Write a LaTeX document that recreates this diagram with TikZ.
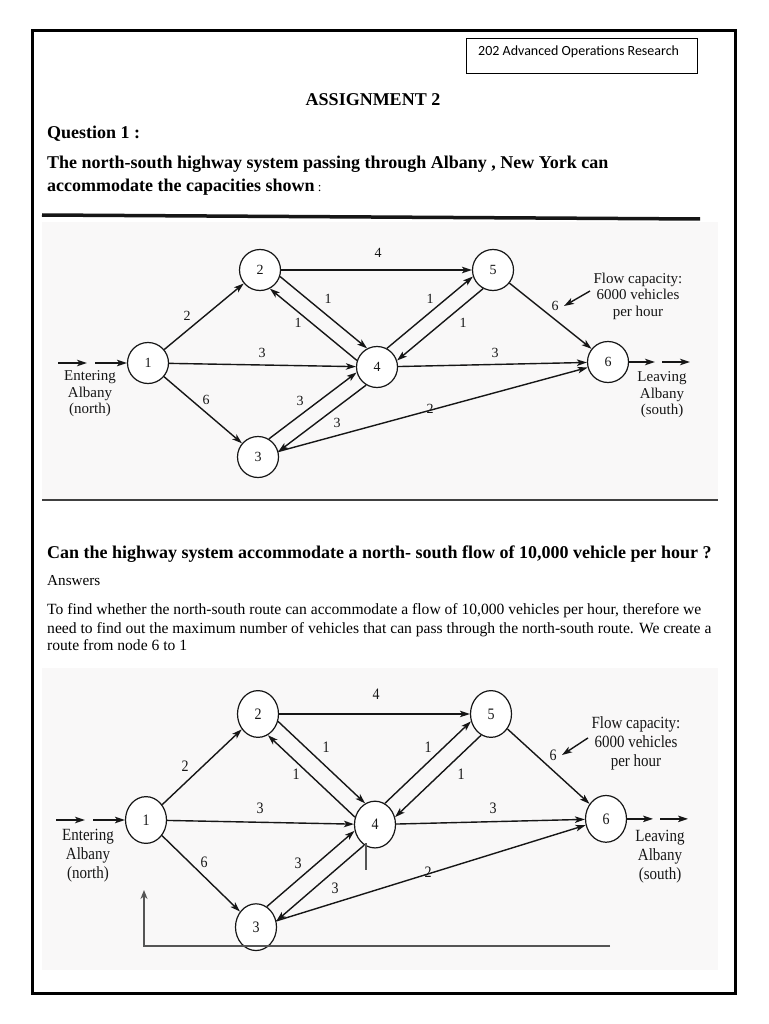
\documentclass[tikz,border=0pt]{standalone}
\usepackage{fontspec}
\setmainfont{Liberation Serif}
\newfontfamily\calfont{Carlito}
\usetikzlibrary{arrows.meta,calc}
\definecolor{ink}{HTML}{161616}
\definecolor{marker}{HTML}{555555}
\definecolor{photo}{HTML}{F9F8F8}
\tikzset{
  vx/.style={circle, draw=ink, line width=1.2pt, minimum size=41pt, inner sep=0pt, fill=white, font=\fontsize{14}{14}\selectfont, text=ink},
  edgeln/.style={draw=ink, line width=1.4pt, -{Stealth[length=10pt,width=6.5pt,inset=2.5pt]}},
  lbl/.style={font=\fontsize{14}{14}\selectfont, inner sep=0pt, text=ink},
  side/.style={font=\fontsize{15}{16.5}\selectfont, align=center, inner sep=0pt, text=ink},
  boldline/.style={anchor=base west, inner sep=0pt, font=\fontsize{18}{18}\selectfont\bfseries},
  plainline/.style={anchor=base west, inner sep=0pt, font=\fontsize{15.6}{15.6}\selectfont},
  markline/.style={draw=marker, line width=2.5pt},
}
\newcommand\netbody{%
  \node[vx] (n1) at (0,0) {1};
  \node[vx] (n2) at (112,-93) {2};
  \node[vx] (n3) at (110,94) {3};
  \node[vx] (n4) at (229,4) {4};
  \node[vx] (n5) at (345,-93) {5};
  \node[vx] (n6) at (460,-1) {6};
  \draw[edgeln] (n1) -- (n2);
  \draw[edgeln] (n1) -- (n4);
  \draw[edgeln] (n1) -- (n3);
  \draw[edgeln] (n2) -- (n5);
  \draw[edgeln] (n2.-18) -- (n4.118);
  \draw[edgeln] (n4.162) -- (n2.-62);
  \draw[edgeln] (n4.62) -- (n5.198);
  \draw[edgeln] (n5.242) -- (n4.18);
  \draw[edgeln] (n3.59) -- (n4.195);
  \draw[edgeln] (n4.239) -- (n3.15);
  \draw[edgeln] (n4) -- (n6);
  \draw[edgeln] (n3) -- (n6);
  \draw[edgeln] (n5) -- (n6);
  \coordinate (ea) at (-90,0); \coordinate (eb) at (-61,0); \coordinate (ec) at (-53,0);
  \draw[edgeln] (ea) -- (eb); \draw[edgeln] (ec) -- (n1);
  \coordinate (la) at (507,-1); \coordinate (lb) at (514,-1); \coordinate (lc) at (542,-1);
  \draw[edgeln] (n6) -- (la); \draw[edgeln] (lb) -- (lc);
  \node[lbl] (c25) at (230,-110) {4};
  \node[lbl] (c12) at (39,-47) {2};
  \node[lbl] (c14) at (114,-10) {3};
  \node[lbl] (c13) at (58,37) {6};
  \node[lbl] (c24) at (180,-64) {1};
  \node[lbl] (c42) at (150,-40) {1};
  \node[lbl] (c45) at (282,-64) {1};
  \node[lbl] (c54) at (315,-40) {1};
  \node[lbl] (c56) at (407,-57) {6};
  \node[lbl] (c46) at (347,-10) {3};
  \node[lbl] (c34) at (152,38) {3};
  \node[lbl] (c43) at (189,60) {3};
  \node[lbl] (c36) at (282,46) {2};
  \node[side] (enter) at (-58,31) {Entering\\Albany\\(north)};
  \node[side] (leave) at (514,32) {Leaving\\Albany\\(south)};
  \node[side] (flow) at (490,-67) {Flow capacity:\\6000 vehicles\\per hour};
  \coordinate (fc) at (416,-57);
  \draw[edgeln] (442,-72) coordinate (fs) -- (fc);
}
\begin{document}
\begin{tikzpicture}[x=1pt, y=-1pt]
  \useasboundingbox (0,0) rectangle (768,1024);
  \fill[white] (0,0) rectangle (768,1024);
  % photo backgrounds
  \fill[photo] (42,222) rectangle (718,500);
  \fill[photo] (42,668) rectangle (718,970);
  % header box
  \node[draw=black, line width=1.2pt, minimum width=231pt, minimum height=35pt, anchor=north west, inner sep=0pt] (hdr) at (466,38) {};
  \node[anchor=base west, inner sep=0pt, font=\calfont\fontsize{14}{14}\selectfont] (hdrtxt) at (478,56) {202 Advanced Operations Research};
  % titles
  \node[anchor=base, inner sep=0pt, font=\fontsize{18}{18}\selectfont\bfseries] (title) at (373,106) {ASSIGNMENT 2};
  \node[boldline] (q1) at (47,139) {Question 1 :};
  \node[boldline] (q1a) at (47,169) {The north-south highway system passing through Albany , New York can};
  \node[boldline] (q1b) at (47,192) {accommodate the capacities shown\mdseries\fontsize{13}{13}\selectfont{} :};
  % diagram 1
  \draw[ink, line width=3.5pt] (42,215) -- (700,219);
  \draw[black!75, line width=2pt] (42,500) -- (718,500);
  \begin{scope}[shift={(148,363)}, name prefix=a-]
    \netbody
  \end{scope}
  % question and answer
  \node[boldline] (q2) at (47,558) {Can the highway system accommodate a north- south flow of 10,000 vehicle per hour ?};
  \node[plainline, font=\fontsize{15.2}{15.2}\selectfont] (ans) at (47,585) {Answers};
  \node[plainline] (p1) at (47,614) {To find whether the north-south route can accommodate a flow of 10,000 vehicles per hour, therefore we};
  \node[plainline] (p2) at (47,633) {need to find out the maximum number of vehicles that can pass through the north-south route. We create a};
  \node[plainline] (p3) at (47,650) {route from node 6 to 1};
  % diagram 2
  \begin{scope}[shift={(146,820)}, yscale=1.14, transform shape, name prefix=b-]
    \netbody
  \end{scope}
  \coordinate (m1) at (366,843);
  \coordinate (m2) at (366,870);
  \draw[markline] (m1) -- (m2);
  \coordinate (r1) at (610,946);
  \coordinate (r2) at (144,946);
  \coordinate (r3) at (144,890);
  \draw[markline, -{Stealth[length=9pt,width=7pt]}] (r1) -- (r2) -- (r3);
  % outer frame
  \draw[black, line width=3pt] (32.5,31) rectangle (735.5,993);
\end{tikzpicture}
\end{document}
